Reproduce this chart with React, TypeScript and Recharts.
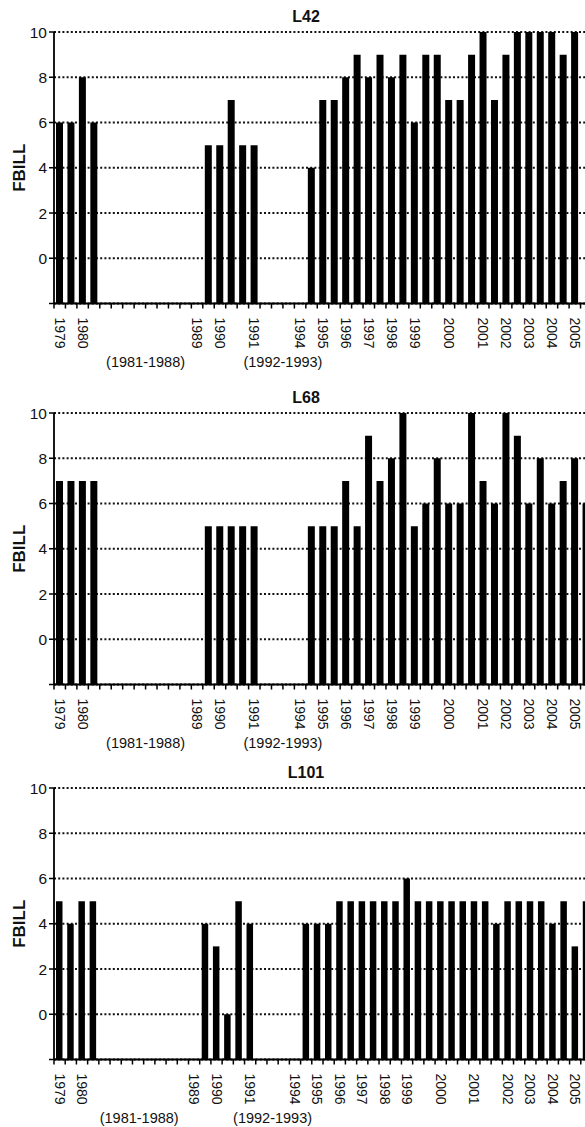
import { BarChart, Bar, XAxis, YAxis, CartesianGrid } from "recharts";

// one slot per sample, null where there is no sample
const l42Values = [
  6, 6, 8, 6,
  null, null, null, null, null, null, null, null, null,
  5, 5, 7, 5, 5,
  null, null, null, null,
  4, 7, 7, 8, 9, 8, 9, 8, 9, 6, 9, 9, 7, 7, 9, 10, 7, 9, 10, 10, 10, 10, 9, 10,
  null,
];
const l68Values = [
  7, 7, 7, 7,
  null, null, null, null, null, null, null, null, null,
  5, 5, 5, 5, 5,
  null, null, null, null,
  5, 5, 5, 7, 5, 9, 7, 8, 10, 5, 6, 8, 6, 6, 10, 7, 6, 10, 9, 6, 8, 6, 7, 8, 6,
];
const l101Values = [
  5, 4, 5, 5,
  null, null, null, null, null, null, null, null, null,
  4, 3, 0, 5, 4,
  null, null, null, null,
  4, 4, 4, 5, 5, 5, 5, 5, 5, 6, 5, 5, 5, 5, 5, 5, 5, 4, 5, 5, 5, 5, 4, 5, 3, 5,
];

const yearLabels = ["1979", "1980", "1989", "1990", "1991", "1994", "1995", "1996", "1997", "1998", "1999", "2000", "2001", "2002", "2003", "2004", "2005"];
const yearSlots = [0, 2, 12, 14, 17, 21, 23, 25, 27, 29, 31, 34, 37, 39, 41, 43, 45];
const yearSlots101 = [0, 2, 12, 14, 17, 21, 23, 25, 27, 29, 31, 34, 37, 40, 42, 44, 46];

const gapLabels = ["(1981-1988)", "(1992-1993)"];
const gapAt = [8, 20];
const gapAt101 = [7.6, 19.5];

const yTicks = [-2, 0, 2, 4, 6, 8, 10];
const FLOOR = -2;

const FONT = "'Liberation Sans', Arial, sans-serif";
const CHART_W = 600;
const Y_AXIS_W = 54;
const RIGHT_M = 8;
const PLOT_W = CHART_W - Y_AXIS_W - RIGHT_M;
const TOP_M = 32;
const PLOT_H = 271.5;
const X_AXIS_H = 75;

function Panel({ title, values, slots, gaps, top, barSize }: any) {
  const n = values.length;
  const slotW = PLOT_W / n;
  const data = values
    .map((v: number | null, i: number) => (v == null ? null : { x: i + 0.5, range: [FLOOR, v] }))
    .filter(Boolean);
  const ticks = Array.from({ length: n + 1 }, (_, i) => i);

  const XTick = (props: any) => {
    const { x, y, payload } = props;
    const i = payload.value;
    const k = slots.indexOf(i);
    return (
      <g>
        {k >= 0 && (
          <text
            transform={`translate(${x + slotW / 2},${y + 7}) rotate(90)`}
            dy="0.35em"
            fontSize={14}
            fontFamily={FONT}
            fill="#111"
          >
            {yearLabels[k]}
          </text>
        )}
        {i === 0 &&
          gapLabels.map((g, j) => (
            <text key={g} x={x + gaps[j] * slotW} y={y + 56} textAnchor="middle" fontSize={14.5} fontFamily={FONT} fill="#111">
              {g}
            </text>
          ))}
      </g>
    );
  };

  const YTick = (props: any) => {
    const { x, y, payload } = props;
    const v = payload.value;
    return (
      <g>
        {v !== FLOOR && (
          <text x={x} y={y} dy="0.36em" textAnchor="end" fontSize={15.5} fontFamily={FONT} fill="#111">
            {v}
          </text>
        )}
        {v === 4 && (
          <text
            transform={`translate(19.5,${y}) rotate(-90)`}
            dy="0.35em"
            textAnchor="middle"
            fontSize={17}
            fontWeight="bold"
            fontFamily={FONT}
            fill="#111"
          >
            FBILL
          </text>
        )}
        {v === 10 && (
          <text x={306} y={y - 10.5} textAnchor="middle" fontSize={16} fontWeight="bold" fontFamily={FONT} fill="#111">
            {title}
          </text>
        )}
      </g>
    );
  };

  return (
    <div style={{ position: "absolute", left: 0, top }}>
      <BarChart
        width={CHART_W}
        height={TOP_M + PLOT_H + X_AXIS_H}
        data={data}
        margin={{ top: TOP_M, right: RIGHT_M, bottom: 0, left: 0 }}
      >
        <CartesianGrid vertical={false} stroke="#111" strokeWidth={1.8} strokeDasharray="2 2.2" />
        <XAxis
          type="number"
          dataKey="x"
          domain={[0, n]}
          ticks={ticks}
          interval={0}
          height={X_AXIS_H}
          tick={<XTick />}
          tickSize={5}
          tickLine={{ stroke: "#000", strokeWidth: 1.5 }}
          axisLine={{ stroke: "#000", strokeWidth: 2 }}
        />
        <YAxis
          type="number"
          domain={[FLOOR, 10]}
          ticks={yTicks}
          interval={0}
          width={Y_AXIS_W}
          tick={<YTick />}
          tickSize={5}
          tickLine={{ stroke: "#000", strokeWidth: 1.5 }}
          axisLine={{ stroke: "#000", strokeWidth: 1.8 }}
        />
        <Bar dataKey="range" fill="#000" barSize={barSize} isAnimationActive={false} />
      </BarChart>
    </div>
  );
}

export default function App() {
  return (
    <div style={{ position: "absolute", left: 0, top: 0, width: 585, height: 1127, overflow: "hidden", background: "#fff" }}>
      <Panel title="L42" values={l42Values} slots={yearSlots} gaps={gapAt} top={0} barSize={7} />
      <Panel title="L68" values={l68Values} slots={yearSlots} gaps={gapAt} top={381} barSize={7} />
      <Panel title="L101" values={l101Values} slots={yearSlots101} gaps={gapAt101} top={756} barSize={6.5} />
    </div>
  );
}
